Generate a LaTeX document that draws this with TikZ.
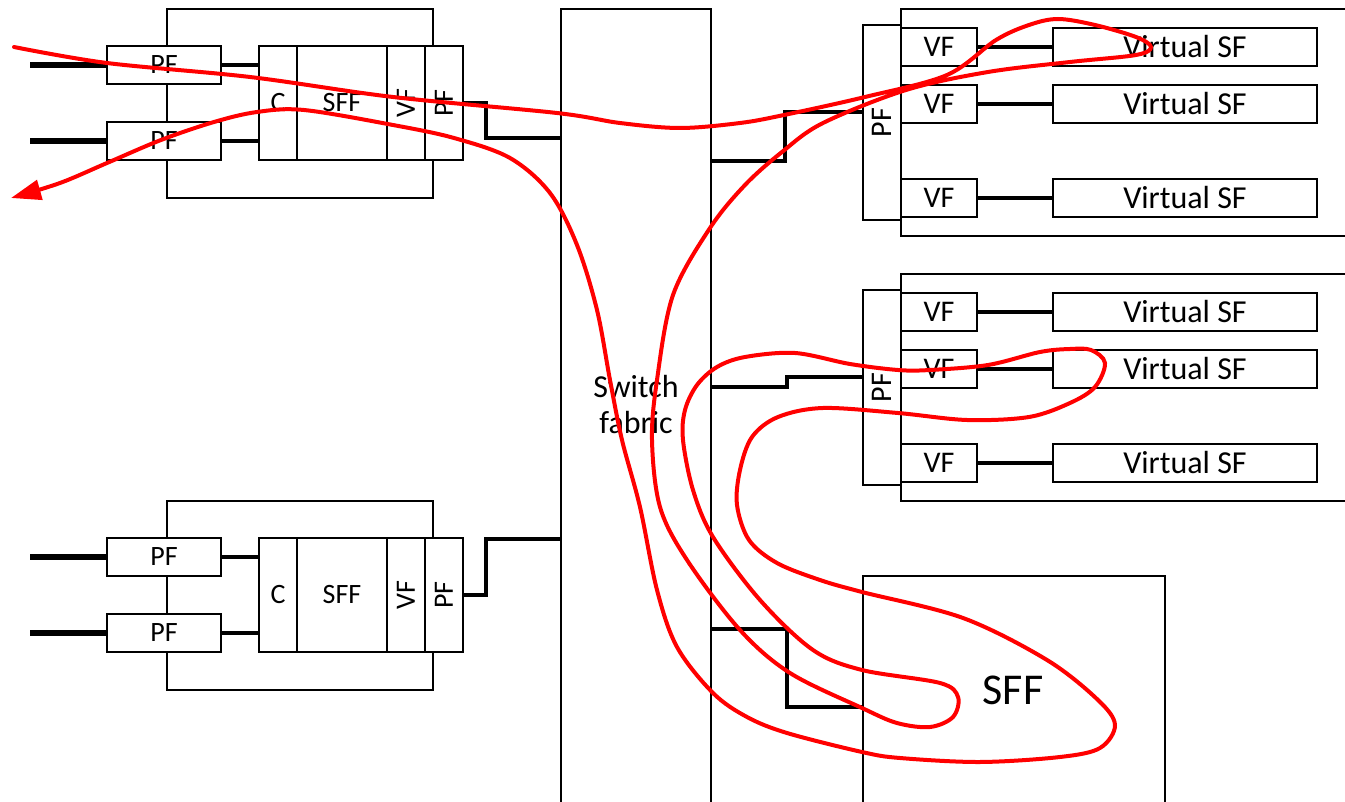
\documentclass[tikz,border=0pt]{standalone}
\usepackage{fontspec}
\setmainfont{Carlito}
\usetikzlibrary{fit,arrows.meta}
\begin{document}
\begin{tikzpicture}[x=0.5pt,y=-0.5pt,
  box/.style={draw,line width=1pt,fill=white,inner sep=0pt},
  frame/.style={draw,line width=1pt},
  link/.style={line width=2pt},
  inlink/.style={line width=2.6pt},
  flow/.style={draw=red,line width=2pt,line join=round,line cap=round},
  ltxt/.style={font=\fontsize{14}{16}\selectfont},
  rtxt/.style={font=\fontsize{15}{17}\selectfont},
  vtxt/.style={font=\fontsize{16}{18}\selectfont},
  rlab/.style={rotate=90,font=\fontsize{14}{16}\selectfont},
  rlabr/.style={rotate=90,font=\fontsize{15}{17}\selectfont}]
\useasboundingbox (0,0) rectangle (1345,802);

% switch fabric
\node[box,fit={(561,9)(711,808)}] (sw) {};
\node[vtxt,align=center] (swlab) at (636,405) {Switch\\fabric};

% left blocks
\foreach \n/\o in {t/0,b/492}{
  \draw[frame] (167,9+\o) rectangle (433,198+\o);
  \node[box,fit={(107,46+\o)(221,84+\o)},label={[ltxt]center:PF}] (\n-pf1) {};
  \node[box,fit={(107,122+\o)(221,160+\o)},label={[ltxt]center:PF}] (\n-pf2) {};
  \node[box,fit={(259,46+\o)(297,160+\o)},label={[ltxt]center:C}] (\n-c) {};
  \node[box,fit={(297,46+\o)(387,160+\o)},label={[ltxt]center:SFF}] (\n-sff) {};
  \node[box,fit={(387,46+\o)(425,160+\o)},label={[rlab]center:VF}] (\n-vf) {};
  \node[box,fit={(425,46+\o)(463,160+\o)},label={[rlab]center:PF}] (\n-pf) {};
  \coordinate (\n-in1) at (30,65+\o);
  \coordinate (\n-in2) at (30,141+\o);
  \draw[inlink] (\n-in1) -- (\n-pf1.west);
  \draw[inlink] (\n-in2) -- (\n-pf2.west);
  \draw[link] (\n-pf1.east) -- (\n-pf1.east -| \n-c.west);
  \draw[link] (\n-pf2.east) -- (\n-pf2.east -| \n-c.west);
}
\draw[link] (t-pf.east) -- ++(22,0) |- (sw.west |- 0,138);
\draw[link] (b-pf.east) -- ++(22,0) |- (sw.west |- 0,539);

% right blocks
\foreach \n/\o in {r1/0,r2/265}{
  \draw[frame] (1346,9+\o) -- (901,9+\o) -- (901,236+\o) -- (1346,236+\o);
  \node[box,fit={(863,25+\o)(901,220+\o)},label={[rlabr]center:PF}] (\n-pf) {};
  \foreach \i/\y in {1/28,2/85,3/179}{
    \node[box,fit={(901,\y+\o)(977,\y+38+\o)},label={[rtxt]center:VF}] (\n-vf\i) {};
    \node[box,fit={(1053,\y+\o)(1317,\y+38+\o)},label={[vtxt]center:Virtual SF}] (\n-vsf\i) {};
    \draw[link] (\n-vf\i.east) -- (\n-vsf\i.west);
  }
}
\draw[link] (sw.east |- 0,161) -| (785,112) -- (r1-pf.west |- 0,112);
\draw[link] (sw.east |- 0,387) -| (787,377) -- (r2-pf.west |- 0,377);

% big SFF
\node[box,fit={(863,576)(1165,808)}] (bigsff) {};
\node[font=\fontsize{22}{24}\selectfont] (bigsfflab) at (1013,690) {SFF};
\draw[link] (sw.east |- 0,629) -| (787,707) -- (bigsff.west |- 0,707);

% flow
\draw[flow,-{Triangle[length=15pt,width=10pt]}] plot[smooth,tension=0.55] coordinates {
 (14,47) (107,63) (250,77) (393,97) (557,113) (620,123) (680,128) (740,123) (784,115)
 (865,97) (947,75) (996,40) (1029,25) (1058,19) (1095,25) (1136,37) (1151,47)
 (1136,55) (1070,62) (988,72) (906,90) (823,123) (782,152) (745,185) (710,228)
 (673,295) (657,380) (652,440) (660,507) (687,560) (740,630) (790,673) (862,708)
 (897,723) (930,727) (953,717) (958,697) (940,683) (862,670) (813,650) (760,600)
 (713,537) (693,490) (683,440) (685,410) (697,385) (717,367) (745,357) (795,353)
 (850,364) (898,370) (930,370) (988,365) (1040,352) (1070,349) (1091,350) (1105,363)
 (1095,387) (1070,403) (1029,417) (967,420) (898,413) (823,408) (778,417) (752,437)
 (740,470) (737,505) (749,540) (777,563) (820,580) (862,592) (963,618) (1047,660)
 (1098,700) (1115,725) (1100,748) (1060,757) (980,762) (900,758) (862,752) (787,733)
 (747,717) (713,693) (677,647) (657,590) (640,507) (622,440) (610,380) (597,310)
 (577,245) (550,193) (510,158) (454,138) (393,125) (304,110) (257,112)
 (214,122) (161,140) (107,163) (60,183) (11,198)};
\end{tikzpicture}
\end{document}
